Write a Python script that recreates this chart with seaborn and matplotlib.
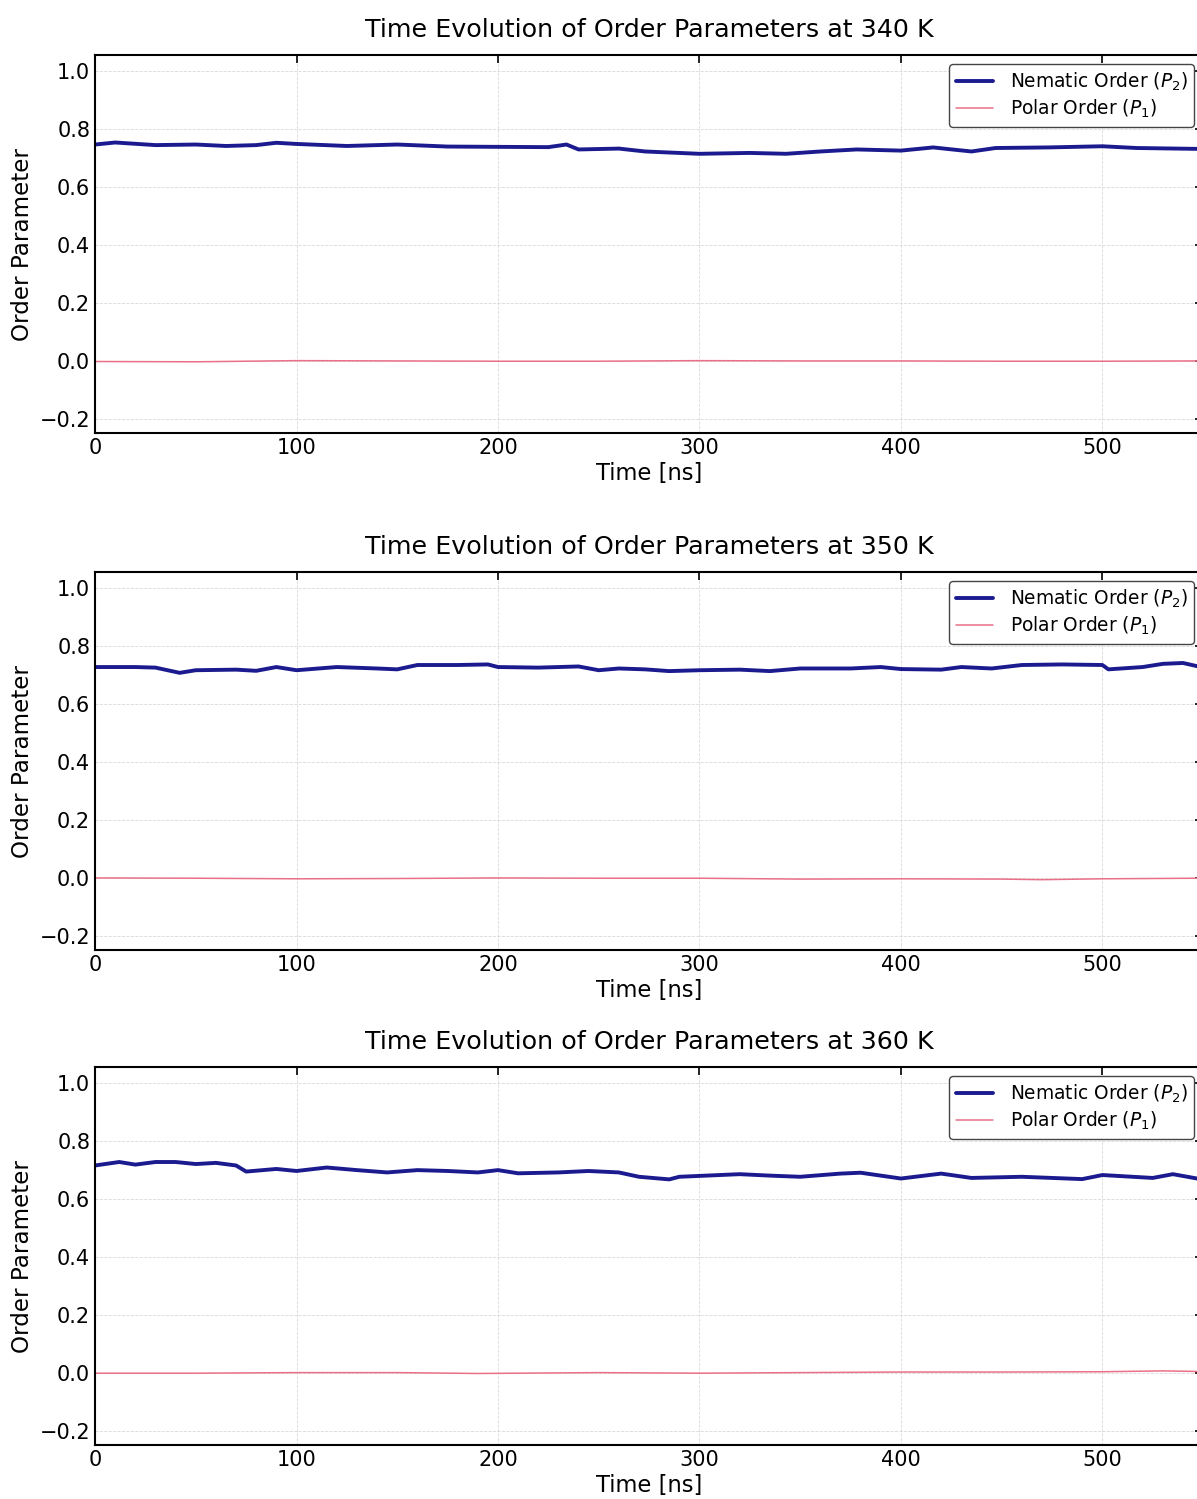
import matplotlib
matplotlib.use("Agg")
import matplotlib.pyplot as plt
import seaborn as sns

# ============================================================
# DATA (time in ns)
# ============================================================

temperatures = [340, 350, 360]

t_nem_340 = [0, 10, 30, 50, 65, 80, 90, 100, 125, 150, 175, 200, 225, 234, 240, 260, 273,
             300, 325, 343, 360, 378, 400, 416, 435, 447, 473, 500, 517, 547]
p2_340 = [0.746, 0.753, 0.744, 0.746, 0.741, 0.744, 0.752, 0.748, 0.741, 0.746, 0.739, 0.738,
          0.737, 0.746, 0.729, 0.732, 0.722, 0.714, 0.717, 0.714, 0.722, 0.729, 0.725, 0.736,
          0.722, 0.734, 0.736, 0.740, 0.734, 0.731]

t_nem_350 = [0, 20, 30, 42, 50, 70, 80, 90, 100, 120, 140, 150, 160, 180, 195, 200, 220, 240,
             250, 260, 273, 285, 300, 320, 335, 350, 375, 390, 400, 420, 430, 445, 460, 480,
             500, 503, 520, 530, 540, 547]
p2_350 = [0.727, 0.727, 0.725, 0.707, 0.716, 0.718, 0.714, 0.727, 0.716, 0.727, 0.722, 0.719,
          0.734, 0.734, 0.736, 0.727, 0.725, 0.729, 0.716, 0.722, 0.719, 0.713, 0.716, 0.718,
          0.713, 0.722, 0.722, 0.727, 0.720, 0.718, 0.727, 0.722, 0.734, 0.736, 0.734, 0.719,
          0.727, 0.738, 0.741, 0.730]

t_nem_360 = [0, 12, 20, 30, 40, 50, 60, 70, 75, 90, 100, 115, 130, 145, 160, 175, 190, 200,
             210, 230, 245, 260, 270, 285, 290, 320, 335, 350, 370, 380, 400, 420, 435, 460,
             490, 500, 525, 535, 547]
p2_360 = [0.715, 0.727, 0.718, 0.727, 0.727, 0.720, 0.724, 0.715, 0.694, 0.703, 0.696, 0.708,
          0.699, 0.691, 0.699, 0.696, 0.691, 0.699, 0.688, 0.691, 0.696, 0.691, 0.676, 0.667,
          0.676, 0.685, 0.680, 0.676, 0.687, 0.690, 0.670, 0.687, 0.672, 0.676, 0.668, 0.682,
          0.672, 0.685, 0.670]

t_pol_340 = [0, 50, 100, 150, 200, 250, 300, 350, 400, 450, 500, 547]
p1_340 = [-0.003, -0.004, 0.000, -0.001, -0.002, -0.002, 0.000, -0.001, -0.001, -0.002, -0.002, -0.001]

t_pol_350 = [0, 50, 100, 150, 200, 250, 300, 350, 400, 450, 470, 500, 547]
p1_350 = [-0.001, -0.002, -0.004, -0.003, -0.001, -0.002, -0.002, -0.005, -0.004, -0.005,
          -0.007, -0.004, -0.002]

t_pol_360 = [0, 50, 100, 150, 190, 250, 300, 350, 400, 450, 500, 530, 547]
p1_360 = [-0.002, -0.002, 0.000, 0.000, -0.003, 0.000, -0.002, 0.000, 0.002, 0.002, 0.003,
          0.006, 0.004]

nematic = [(t_nem_340, p2_340), (t_nem_350, p2_350), (t_nem_360, p2_360)]
polar = [(t_pol_340, p1_340), (t_pol_350, p1_350), (t_pol_360, p1_360)]

# ============================================================
# PLOT
# ============================================================

sns.set_style("white")
plt.rcParams["font.family"] = ["DejaVu Sans"]
plt.rcParams["text.color"] = "black"
plt.rcParams["axes.labelcolor"] = "black"
plt.rcParams["xtick.color"] = "black"
plt.rcParams["ytick.color"] = "black"

fig = plt.figure(figsize=(11.97, 14.99), dpi=100)

axes_bottoms = [0.7111, 0.3662, 0.0360]
ax_left = 0.0794
ax_width = 0.9257
ax_height = 0.2522

for i, temp in enumerate(temperatures):
    ax = fig.add_axes([ax_left, axes_bottoms[i], ax_width, ax_height])

    tn, vn = nematic[i]
    tp, vp = polar[i]

    sns.lineplot(x=tn, y=vn, ax=ax, color="#1b1b8f", linewidth=2.8,
                 label=r"Nematic Order ($P_2$)")
    sns.lineplot(x=tp, y=vp, ax=ax, color="#ea7088", linewidth=1.1,
                 label=r"Polar Order ($P_1$)")

    ax.set_xlim(0, 550)
    ax.set_ylim(-0.25, 1.055)
    ax.set_xticks([0, 100, 200, 300, 400, 500])
    ax.set_yticks([-0.2, 0.0, 0.2, 0.4, 0.6, 0.8, 1.0])

    ax.set_title(f"Time Evolution of Order Parameters at {temp} K", fontsize=18.3,
                 pad=13, color="black")
    ax.set_xlabel("Time [ns]", fontsize=16.3, labelpad=3)
    ax.set_ylabel("Order Parameter", fontsize=16.6)

    ax.tick_params(direction="in", length=6, width=1.2, labelsize=15,
                   top=True, right=True)
    for spine in ax.spines.values():
        spine.set_linewidth(1.5)
        spine.set_color("black")

    ax.grid(True, linestyle="--", linewidth=0.6, color="#d0d0d0", alpha=0.8)

    leg = ax.legend(loc="upper right", fontsize=13.4, frameon=True, framealpha=1.0,
                    fancybox=True, borderaxespad=0.5, labelspacing=0.25,
                    borderpad=0.35, handletextpad=0.9)
    leg.get_frame().set_edgecolor("#444444")
    leg.get_frame().set_linewidth(1.0)

fig.savefig("out.png", dpi=100)
